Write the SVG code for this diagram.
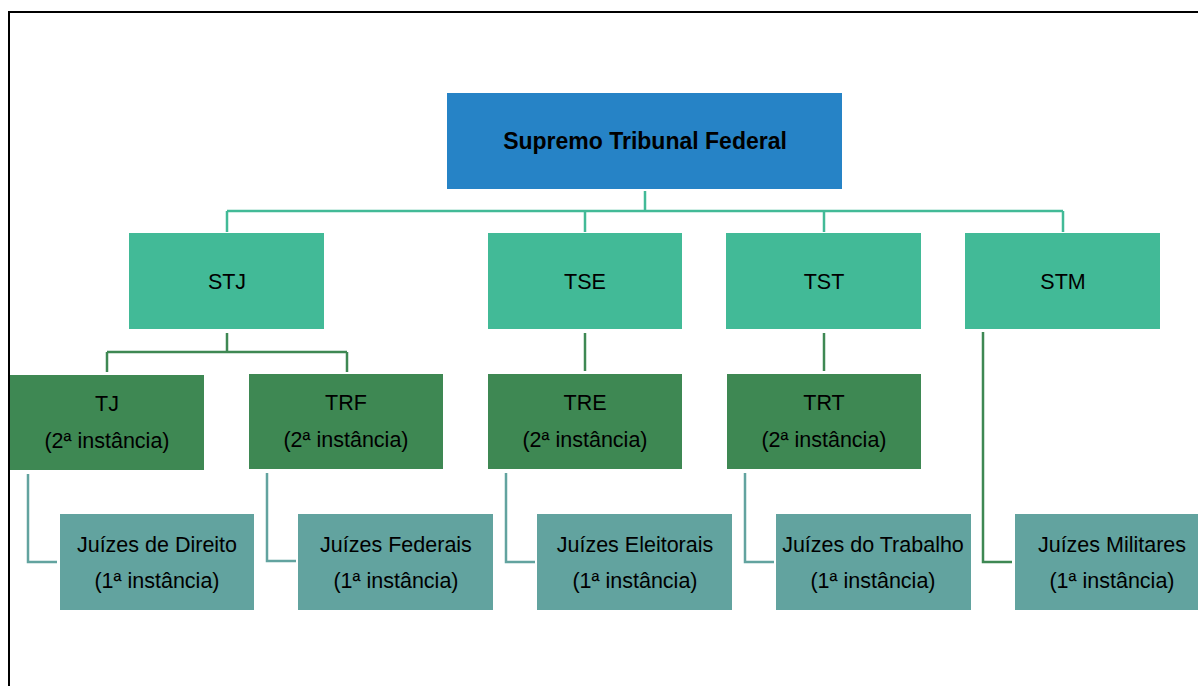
<svg xmlns="http://www.w3.org/2000/svg" width="1198" height="686" viewBox="0 0 1198 686">
<style>
.t{font-family:"Liberation Sans",Arial,sans-serif;font-size:21.5px;fill:#000;text-anchor:middle}
.b{font-weight:bold;font-size:23px}
.l1{fill:#42BA97}
.l2{fill:#3E8853}
.l3{fill:#62A39F}
.c1{stroke:#42BA97;stroke-width:2.5;fill:none}
.c2{stroke:#3E8853;stroke-width:2.5;fill:none}
.c3{stroke:#62A39F;stroke-width:2.5;fill:none}
</style>
<rect width="1198" height="686" fill="#fff"/>
<path d="M9,686 V12 H1198" fill="none" stroke="#000" stroke-width="2"/>
<g id="connectors">
<path class="c1" d="M645,191 V211 M227,211 H1063 M227,211 V232 M585,211 V232 M824,211 V232 M1063,211 V232"/>
<path class="c2" d="M227,333 V352 M107,352 H347 M107,352 V372 M347,352 V372"/>
<path class="c2" d="M585,333 V371"/>
<path class="c2" d="M824,333 V371"/>
<path class="c2" d="M983,332 V562 H1012"/>
<path class="c3" d="M28,474 V562 H57"/>
<path class="c3" d="M267,473 V561 H296"/>
<path class="c3" d="M506,473 V562 H535"/>
<path class="c3" d="M745,473 V562 H774"/>
</g>
<g id="stf"><rect x="447" y="93" width="395" height="96" fill="#2683C6"/><text class="t b" x="645" y="149">Supremo Tribunal Federal</text></g>
<g id="stj"><rect class="l1" x="129" y="233" width="195" height="96"/><text class="t" x="227" y="289">STJ</text></g>
<g id="tse"><rect class="l1" x="488" y="233" width="194" height="96"/><text class="t" x="585" y="289">TSE</text></g>
<g id="tst"><rect class="l1" x="726" y="233" width="195" height="96"/><text class="t" x="824" y="289">TST</text></g>
<g id="stm"><rect class="l1" x="965" y="233" width="195" height="96"/><text class="t" x="1063" y="289">STM</text></g>
<g id="tj"><rect class="l2" x="10" y="375" width="194" height="95"/><text class="t" x="107" y="411">TJ</text><text class="t" x="107" y="448">(2ª instância)</text></g>
<g id="trf"><rect class="l2" x="249" y="374" width="194" height="95"/><text class="t" x="346" y="410">TRF</text><text class="t" x="346" y="447">(2ª instância)</text></g>
<g id="tre"><rect class="l2" x="488" y="374" width="194" height="95"/><text class="t" x="585" y="410">TRE</text><text class="t" x="585" y="447">(2ª instância)</text></g>
<g id="trt"><rect class="l2" x="727" y="374" width="194" height="95"/><text class="t" x="824" y="410">TRT</text><text class="t" x="824" y="447">(2ª instância)</text></g>
<g id="jd"><rect class="l3" x="60" y="514" width="194" height="96"/><text class="t" x="157" y="552">Juízes de Direito</text><text class="t" x="157" y="588">(1ª instância)</text></g>
<g id="jf"><rect class="l3" x="298" y="514" width="195" height="96"/><text class="t" x="396" y="552">Juízes Federais</text><text class="t" x="396" y="588">(1ª instância)</text></g>
<g id="je"><rect class="l3" x="537" y="514" width="195" height="96"/><text class="t" x="635" y="552">Juízes Eleitorais</text><text class="t" x="635" y="588">(1ª instância)</text></g>
<g id="jt"><rect class="l3" x="776" y="514" width="195" height="96"/><text class="t" x="873" y="552">Juízes do Trabalho</text><text class="t" x="873" y="588">(1ª instância)</text></g>
<g id="jm"><rect class="l3" x="1015" y="514" width="195" height="96"/><text class="t" x="1112" y="552">Juízes Militares</text><text class="t" x="1112" y="588">(1ª instância)</text></g>
</svg>
